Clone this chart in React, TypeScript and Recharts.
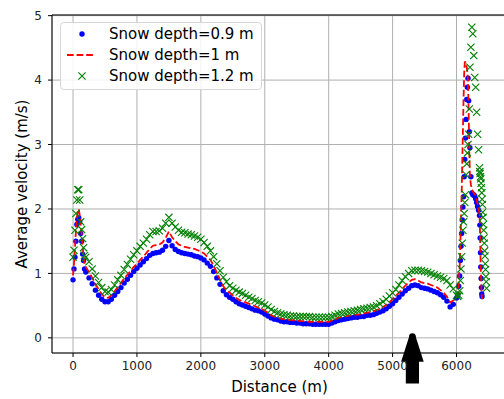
import React from 'react';
import {
  ComposedChart,
  Scatter,
  XAxis,
  YAxis,
  CartesianGrid,
  ReferenceLine,
  ReferenceDot,
} from 'recharts';

// distance along the track (m)
const distance = [
  0, 15, 30, 45, 60, 75, 90, 105, 120, 135, 150, 165, 180, 200,
  250, 300, 350, 400, 450, 500, 550, 600, 650, 700,
  750, 800, 850, 900, 950, 1000, 1050, 1100, 1150, 1200,
  1250, 1300, 1350, 1400, 1450, 1500, 1550, 1600, 1650, 1700,
  1750, 1800, 1850, 1900, 1950, 2000, 2050, 2100, 2150, 2200,
  2250, 2300, 2350, 2400, 2450, 2500, 2550, 2600, 2650, 2700,
  2750, 2800, 2850, 2900, 2950, 3000, 3050, 3100, 3150, 3200,
  3250, 3300, 3350, 3400, 3450, 3500, 3550, 3600, 3650, 3700,
  3750, 3800, 3850, 3900, 3950, 4000, 4050, 4100, 4150, 4200,
  4250, 4300, 4350, 4400, 4450, 4500, 4550, 4600, 4650, 4700,
  4750, 4800, 4850, 4900, 4950, 5000, 5050, 5100, 5150, 5200,
  5250, 5300, 5350, 5400, 5450, 5500, 5550, 5600, 5650, 5700,
  5750, 5800, 5850, 5900, 5950, 6000,
  6020, 6035, 6050, 6060, 6070, 6080, 6090, 6100, 6110, 6120,
  6130, 6140, 6150, 6160, 6170, 6180, 6190, 6200, 6210, 6225,
  6240, 6255, 6270, 6285, 6300, 6315, 6330, 6345, 6360, 6365,
  6370, 6375, 6380, 6385, 6390, 6395, 6400, 6405, 6410, 6415,
  6420, 6425, 6430, 6435, 6440, 6445, 6450, 6455, 6460, 6465,
  6470,
];

// average velocity (m/s), snow depth 0.9 m
const depth09 = [
  0.90, 1.07, 1.25, 1.50, 1.76, 1.84, 1.86, 1.80, 1.62, 1.50, 1.30, 1.20, 1.07, 1.02,
  0.93, 0.84, 0.74, 0.66, 0.60, 0.56, 0.56, 0.60, 0.66, 0.72,
  0.78, 0.85, 0.91, 0.97, 1.03, 1.08, 1.13, 1.18, 1.23, 1.28,
  1.31, 1.32, 1.33, 1.36, 1.42, 1.51, 1.43, 1.37, 1.34, 1.32,
  1.31, 1.30, 1.29, 1.27, 1.26, 1.24, 1.21, 1.16, 1.11, 1.03,
  0.93, 0.83, 0.73, 0.67, 0.63, 0.60, 0.56, 0.53, 0.51, 0.49,
  0.47, 0.45, 0.43, 0.42, 0.40, 0.37, 0.34, 0.31, 0.29, 0.28,
  0.26, 0.25, 0.25, 0.24, 0.24, 0.23, 0.23, 0.22, 0.22, 0.22,
  0.21, 0.21, 0.21, 0.21, 0.21, 0.21, 0.23, 0.25, 0.27, 0.28,
  0.29, 0.30, 0.31, 0.32, 0.32, 0.33, 0.33, 0.35, 0.35, 0.36,
  0.38, 0.40, 0.42, 0.45, 0.49, 0.53, 0.58, 0.63, 0.68, 0.73,
  0.77, 0.81, 0.82, 0.81, 0.78, 0.77, 0.76, 0.74, 0.72, 0.70,
  0.67, 0.63, 0.57, 0.48, 0.52, 0.62,
  0.66, 0.80, 0.96, 1.20, 1.42, 1.62, 1.83, 2.03, 2.19, 2.50,
  2.77, 3.10, 3.39, 3.70, 3.89, 4.03, 3.68, 3.20, 2.95, 2.50,
  2.25, 2.22, 2.22, 2.20, 2.16, 2.10, 2.04, 1.98, 1.90, 1.75,
  1.55, 1.32, 1.10, 0.92, 0.78, 0.68, 0.64, null, null, null,
  null, null, null, null, null, null, null, null, null, null,
  null,
];

// snow depth 1 m
const depth10 = [
  0.97, 1.15, 1.40, 1.65, 1.85, 1.97, 2.00, 1.90, 1.75, 1.60, 1.42, 1.28, 1.15, 1.10,
  1.02, 0.93, 0.84, 0.75, 0.68, 0.63, 0.62, 0.66, 0.72, 0.79,
  0.85, 0.92, 0.98, 1.04, 1.10, 1.15, 1.21, 1.26, 1.32, 1.38,
  1.43, 1.44, 1.45, 1.48, 1.55, 1.65, 1.56, 1.50, 1.45, 1.43,
  1.41, 1.40, 1.39, 1.38, 1.36, 1.34, 1.31, 1.26, 1.21, 1.12,
  1.01, 0.90, 0.80, 0.74, 0.70, 0.66, 0.62, 0.59, 0.57, 0.55,
  0.53, 0.51, 0.49, 0.47, 0.45, 0.42, 0.39, 0.35, 0.33, 0.31,
  0.30, 0.29, 0.28, 0.28, 0.27, 0.27, 0.26, 0.26, 0.26, 0.25,
  0.25, 0.25, 0.25, 0.25, 0.25, 0.25, 0.27, 0.29, 0.31, 0.32,
  0.33, 0.34, 0.35, 0.36, 0.36, 0.37, 0.38, 0.39, 0.40, 0.41,
  0.43, 0.45, 0.48, 0.51, 0.55, 0.60, 0.65, 0.70, 0.76, 0.81,
  0.86, 0.90, 0.91, 0.89, 0.86, 0.85, 0.84, 0.82, 0.80, 0.78,
  0.74, 0.70, 0.64, 0.55, 0.58, 0.65,
  0.68, 0.85, 1.10, 1.45, 1.80, 2.20, 2.70, 3.20, 3.70, 4.10,
  4.28, 4.28, 4.25, 4.20, 4.12, 4.00, 3.50, 2.90, 2.50, 2.38,
  2.30, 2.27, 2.25, 2.23, 2.20, 2.14, 2.08, 2.00, 1.92, 1.75,
  1.52, 1.28, 1.05, 0.88, 0.74, 0.65, 0.60, null, null, null,
  null, null, null, null, null, null, null, null, null, null,
  null,
];

// snow depth 1.2 m
const depth12 = [
  1.25, 1.36, 1.67, 1.93, 2.14, 2.30, 2.30, 2.14, 1.80, 1.68, 1.54, 1.40, 1.28, 1.25,
  1.18, 1.07, 0.96, 0.86, 0.78, 0.72, 0.71, 0.75, 0.82, 0.90,
  0.97, 1.06, 1.14, 1.22, 1.29, 1.35, 1.42, 1.47, 1.53, 1.60,
  1.65, 1.65, 1.66, 1.70, 1.78, 1.87, 1.78, 1.72, 1.67, 1.64,
  1.63, 1.61, 1.60, 1.58, 1.56, 1.53, 1.48, 1.42, 1.35, 1.26,
  1.15, 1.04, 0.94, 0.87, 0.81, 0.77, 0.74, 0.71, 0.69, 0.66,
  0.63, 0.61, 0.58, 0.56, 0.54, 0.51, 0.48, 0.44, 0.41, 0.39,
  0.37, 0.36, 0.35, 0.34, 0.34, 0.33, 0.33, 0.33, 0.33, 0.33,
  0.32, 0.32, 0.32, 0.32, 0.32, 0.32, 0.33, 0.35, 0.37, 0.38,
  0.39, 0.40, 0.41, 0.42, 0.43, 0.44, 0.45, 0.46, 0.47, 0.48,
  0.50, 0.53, 0.56, 0.60, 0.65, 0.70, 0.75, 0.82, 0.89, 0.95,
  1.00, 1.04, 1.05, 1.05, 1.04, 1.03, 1.02, 1.00, 0.98, 0.96,
  0.94, 0.92, 0.89, 0.82, 0.76, 0.66,
  0.64, 0.66, 0.73, 0.89, 1.07, 1.26, 1.47, 1.67, 1.80, 1.93,
  2.10, 2.22, 2.53, 2.70, 2.87, 3.00, 3.16, 3.55, 4.20, 4.51,
  4.82, 4.72, 4.38, 4.04, 3.89, 3.50, 3.16, 2.92, 2.64, 2.58,
  2.55, 2.50, 2.47, 2.40, 2.33, 2.25, 2.15, 2.07, 1.95, 1.87,
  1.76, 1.67, 1.55, 1.47, 1.35, 1.27, 1.15, 1.06, 0.95, 0.87,
  0.77,
];

const seriesNames = ['Snow depth=0.9 m', 'Snow depth=1 m', 'Snow depth=1.2 m'];
const xTicks = [0, 1000, 2000, 3000, 4000, 5000, 6000];
const yTicks = [0, 1, 2, 3, 4, 5];
const xDomain = [-329, 6790];
const yDomain = [-0.235, 5.01];
const arrowAt = { d: 5310, v: 0 };

const BLUE = '#0000ff';
const RED = '#ff0000';
const GREEN = '#008000';
const FONT = 'DejaVu Sans, sans-serif';

const toPoints = (values: (number | null)[]) =>
  distance.map((d, i) => ({ d, v: values[i] })).filter((p) => p.v != null);

const Dot = (props: any) => <circle cx={props.cx} cy={props.cy} r={2.7} fill={BLUE} />;

const Cross = (props: any) => {
  const { cx, cy } = props;
  const s = 3.6;
  return (
    <path
      d={`M${cx - s},${cy - s}L${cx + s},${cy + s}M${cx - s},${cy + s}L${cx + s},${cy - s}`}
      stroke={GREEN}
      strokeWidth={1.1}
      fill="none"
    />
  );
};

const Nothing = () => <g />;

const Arrow = (props: any) => {
  const { cx, cy } = props;
  const path = [
    `M${cx - 3},${cy - 2}`,
    `L${cx + 3},${cy - 2}`,
    `L${cx + 11.3},${cy + 24}`,
    `L${cx + 6.6},${cy + 24}`,
    `L${cx + 6.6},${cy + 45.6}`,
    `L${cx - 6.6},${cy + 45.6}`,
    `L${cx - 6.6},${cy + 24}`,
    `L${cx - 11.3},${cy + 24}`,
    'Z',
  ].join('');
  return (
    <g>
      <circle cx={cx} cy={cy - 1.2} r={3.4} fill="#000" />
      <path d={path} fill="#000" />
    </g>
  );
};

function LegendBox() {
  const rows = [
    { name: seriesNames[0], top: 12 },
    { name: seriesNames[1], top: 32.5 },
    { name: seriesNames[2], top: 54 },
  ];
  return (
    <div
      style={{
        position: 'absolute',
        left: 60,
        top: 22,
        width: 202,
        height: 68,
        border: '1px solid #d6d6d6',
        borderRadius: 4,
        background: 'rgba(255,255,255,0.85)',
        fontFamily: FONT,
        fontSize: 15,
        color: '#000',
        boxSizing: 'border-box',
      }}
    >
      {rows.map((r, i) => (
        <div key={r.name}>
          <svg
            width={30}
            height={12}
            style={{ position: 'absolute', left: 5, top: r.top - 7 }}
          >
            {i === 0 && <circle cx={16} cy={6} r={2.7} fill={BLUE} />}
            {i === 1 && (
              <line x1={1} y1={6} x2={29} y2={6} stroke={RED} strokeWidth={1.8} strokeDasharray="6.7 2.9" />
            )}
            {i === 2 && (
              <path d="M12.4,2.4L19.6,9.6M12.4,9.6L19.6,2.4" stroke={GREEN} strokeWidth={1.1} />
            )}
          </svg>
          <span
            style={{
              position: 'absolute',
              left: 48,
              top: r.top - 9,
              lineHeight: '17px',
              whiteSpace: 'nowrap',
            }}
          >
            {r.name}
          </span>
        </div>
      ))}
    </div>
  );
}

export default function App() {
  const blue = toPoints(depth09);
  const red = toPoints(depth10);
  const green = toPoints(depth12);

  return (
    <div
      style={{
        position: 'absolute',
        left: 0,
        top: 0,
        width: 504,
        height: 399,
        overflow: 'hidden',
        background: '#fff',
        fontFamily: FONT,
      }}
    >
      <ComposedChart width={510} height={399} margin={{ top: 15, right: 3, bottom: 0, left: 0 }}>
        <CartesianGrid stroke="#b0b0b0" strokeWidth={1} />
        <XAxis
          dataKey="d"
          type="number"
          domain={xDomain}
          ticks={xTicks}
          allowDataOverflow
          height={46}
          tickSize={4}
          tickMargin={4}
          tick={{ fontSize: 12, fill: '#222', fontFamily: FONT }}
          tickLine={{ stroke: '#000' }}
          axisLine={{ stroke: '#000' }}
          label={() => (
            <text x={279.5} y={391.5} textAnchor="middle" fontSize={15} fill="#000" fontFamily={FONT}>
              Distance (m)
            </text>
          )}
        />
        <YAxis
          dataKey="v"
          type="number"
          domain={yDomain}
          ticks={yTicks}
          allowDataOverflow
          width={52}
          tickSize={4}
          tickMargin={6}
          tick={{ fontSize: 12, fill: '#222', fontFamily: FONT }}
          tickLine={{ stroke: '#000' }}
          axisLine={{ stroke: '#000' }}
          label={() => (
            <text
              x={27}
              y={184}
              transform="rotate(-90 27 184)"
              textAnchor="middle"
              fontSize={15}
              fill="#000"
              fontFamily={FONT}
            >
              Average velocity (m/s)
            </text>
          )}
        />
        <ReferenceLine y={yDomain[1]} stroke="#000" strokeWidth={1} />
        <Scatter name={seriesNames[0]} data={blue} dataKey="v" shape={Dot} isAnimationActive={false} />
        <Scatter
          name={seriesNames[1]}
          data={red}
          dataKey="v"
          shape={Nothing}
          line={{ stroke: RED, strokeWidth: 1.8, strokeDasharray: '6.7 2.9', fill: 'none' }}
          lineType="joint"
          isAnimationActive={false}
        />
        <Scatter name={seriesNames[2]} data={green} dataKey="v" shape={Cross} isAnimationActive={false} />
        <ReferenceDot x={arrowAt.d} y={arrowAt.v} ifOverflow="visible" shape={Arrow} />
      </ComposedChart>
      <LegendBox />
    </div>
  );
}
